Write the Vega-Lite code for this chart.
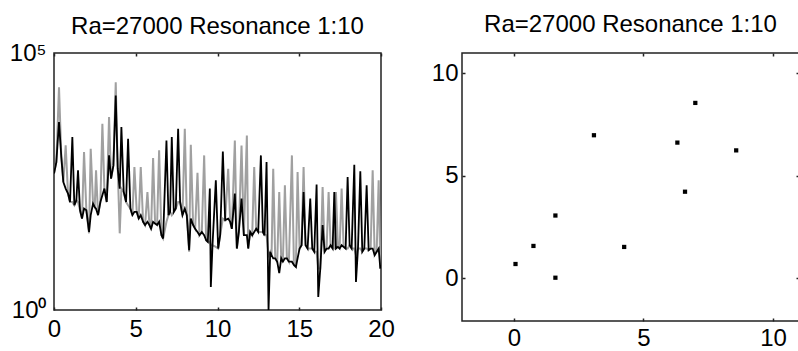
{
  "$schema": "https://vega.github.io/schema/vega-lite/v6.json",
  "padding": {"left": 8, "top": 12, "right": 0, "bottom": 0},
  "bounds": "flush",
  "spacing": 81,
  "background": "white",
  "config": {
    "view": {"stroke": "#222", "strokeWidth": 1.5},
    "font": "Liberation Sans",
    "axis": {"grid": false, "domain": false, "tickColor": "#222", "tickSize": -3, "tickWidth": 1.5, "labelFontSize": 24, "labelColor": "#000", "labelFont": "Liberation Sans", "labelFlush": false},
    "title": {"fontSize": 24, "fontWeight": "normal", "font": "Liberation Sans", "color": "#000", "baseline": "alphabetic", "anchor": "middle", "frame": "group"}
  },
  "datasets": {
    "spec": [
      {"x": 0, "b": 449, "g": 449},
      {"x": 0.143, "b": 755, "g": 755},
      {"x": 0.306, "b": 4519, "g": 21580},
      {"x": 0.449, "b": 944, "g": 944},
      {"x": 0.571, "b": 309, "g": 309},
      {"x": 0.714, "b": 230, "g": 1592},
      {"x": 0.857, "b": 184, "g": 184},
      {"x": 0.98, "b": 126, "g": 126},
      {"x": 1.122, "b": 2312, "g": 126},
      {"x": 1.245, "b": 109, "g": 109},
      {"x": 1.367, "b": 136, "g": 136},
      {"x": 1.469, "b": 521, "g": 126},
      {"x": 1.592, "b": 87, "g": 87},
      {"x": 1.714, "b": 60, "g": 60},
      {"x": 1.837, "b": 94, "g": 1181},
      {"x": 1.98, "b": 87, "g": 87},
      {"x": 2.143, "b": 33, "g": 31},
      {"x": 2.245, "b": 70, "g": 1371},
      {"x": 2.388, "b": 117, "g": 117},
      {"x": 2.49, "b": 101, "g": 101},
      {"x": 2.571, "b": 94, "g": 521},
      {"x": 2.694, "b": 70, "g": 70},
      {"x": 2.837, "b": 126, "g": 126},
      {"x": 2.959, "b": 171, "g": 4188},
      {"x": 3.082, "b": 230, "g": 230},
      {"x": 3.224, "b": 126, "g": 126},
      {"x": 3.367, "b": 1018, "g": 5649},
      {"x": 3.49, "b": 359, "g": 359},
      {"x": 3.633, "b": 651, "g": 651},
      {"x": 3.776, "b": 14860, "g": 26980},
      {"x": 3.898, "b": 561, "g": 561},
      {"x": 4.02, "b": 230, "g": 31},
      {"x": 4.122, "b": 3612, "g": 230},
      {"x": 4.265, "b": 198, "g": 198},
      {"x": 4.408, "b": 126, "g": 126},
      {"x": 4.531, "b": 2143, "g": 109},
      {"x": 4.673, "b": 94, "g": 94},
      {"x": 4.796, "b": 70, "g": 70},
      {"x": 4.918, "b": 81, "g": 604},
      {"x": 5.061, "b": 81, "g": 81},
      {"x": 5.184, "b": 60, "g": 60},
      {"x": 5.306, "b": 70, "g": 604},
      {"x": 5.449, "b": 52, "g": 52},
      {"x": 5.571, "b": 45, "g": 45},
      {"x": 5.714, "b": 52, "g": 198},
      {"x": 5.837, "b": 45, "g": 45},
      {"x": 5.939, "b": 38, "g": 38},
      {"x": 6.061, "b": 52, "g": 904},
      {"x": 6.184, "b": 48, "g": 48},
      {"x": 6.306, "b": 45, "g": 45},
      {"x": 6.429, "b": 52, "g": 1274},
      {"x": 6.571, "b": 28.5, "g": 28.5},
      {"x": 6.673, "b": 24.6, "g": 24.6},
      {"x": 6.878, "b": 1991, "g": 52},
      {"x": 7.0, "b": 70, "g": 70},
      {"x": 7.102, "b": 81, "g": 81},
      {"x": 7.204, "b": 2312, "g": 70},
      {"x": 7.327, "b": 81, "g": 81},
      {"x": 7.449, "b": 94, "g": 94},
      {"x": 7.592, "b": 3350, "g": 126},
      {"x": 7.714, "b": 126, "g": 126},
      {"x": 7.857, "b": 70, "g": 70},
      {"x": 8.0, "b": 94, "g": 3350},
      {"x": 8.122, "b": 70, "g": 70},
      {"x": 8.265, "b": 14.6, "g": 13.6},
      {"x": 8.367, "b": 60, "g": 1641},
      {"x": 8.51, "b": 45, "g": 45},
      {"x": 8.633, "b": 38, "g": 38},
      {"x": 8.776, "b": 33, "g": 469},
      {"x": 8.898, "b": 28.5, "g": 28.5},
      {"x": 9.041, "b": 33, "g": 33},
      {"x": 9.184, "b": 28.5, "g": 1018},
      {"x": 9.306, "b": 22.8, "g": 22.8},
      {"x": 9.408, "b": 21.2, "g": 21.2},
      {"x": 9.531, "b": 230, "g": 21.2},
      {"x": 9.592, "b": 2.8, "g": 18.2},
      {"x": 9.694, "b": 18.2, "g": 18.2},
      {"x": 9.898, "b": 333, "g": 16.9},
      {"x": 10.041, "b": 15.7, "g": 15.7},
      {"x": 10.163, "b": 28.5, "g": 28.5},
      {"x": 10.327, "b": 1217, "g": 60},
      {"x": 10.469, "b": 56, "g": 56},
      {"x": 10.653, "b": 60, "g": 561},
      {"x": 10.776, "b": 52, "g": 52},
      {"x": 10.878, "b": 38, "g": 38},
      {"x": 11.061, "b": 184, "g": 1991},
      {"x": 11.184, "b": 15.7, "g": 15.7},
      {"x": 11.306, "b": 33, "g": 33},
      {"x": 11.469, "b": 147, "g": 1592},
      {"x": 11.612, "b": 28.5, "g": 28.5},
      {"x": 11.796, "b": 28.5, "g": 2489},
      {"x": 11.878, "b": 15.7, "g": 15.7},
      {"x": 12.0, "b": 33, "g": 33},
      {"x": 12.122, "b": 28.5, "g": 28.5},
      {"x": 12.245, "b": 33, "g": 604},
      {"x": 12.367, "b": 38, "g": 38},
      {"x": 12.49, "b": 33, "g": 33},
      {"x": 12.653, "b": 1018, "g": 33},
      {"x": 12.776, "b": 33, "g": 33},
      {"x": 12.878, "b": 28.5, "g": 28.5},
      {"x": 13.0, "b": 755, "g": 28.5},
      {"x": 13.122, "b": 1, "g": 11.7},
      {"x": 13.224, "b": 13.6, "g": 13.6},
      {"x": 13.306, "b": 11.7, "g": 11.7},
      {"x": 13.408, "b": 10.1, "g": 561},
      {"x": 13.531, "b": 10.1, "g": 10.1},
      {"x": 13.653, "b": 8.7, "g": 8.7},
      {"x": 13.776, "b": 5.2, "g": 198},
      {"x": 13.898, "b": 10.1, "g": 10.1},
      {"x": 14.0, "b": 8.7, "g": 8.7},
      {"x": 14.122, "b": 10.1, "g": 267},
      {"x": 14.245, "b": 10.1, "g": 10.1},
      {"x": 14.367, "b": 8.7, "g": 8.7},
      {"x": 14.551, "b": 8.7, "g": 1018},
      {"x": 14.673, "b": 7.5, "g": 7.5},
      {"x": 14.796, "b": 6.9, "g": 6.9},
      {"x": 14.898, "b": 10.1, "g": 483},
      {"x": 15.02, "b": 15.7, "g": 15.7},
      {"x": 15.143, "b": 18.2, "g": 18.2},
      {"x": 15.265, "b": 198, "g": 604},
      {"x": 15.388, "b": 18.2, "g": 18.2},
      {"x": 15.51, "b": 15.7, "g": 15.7},
      {"x": 15.673, "b": 147, "g": 15.7},
      {"x": 15.796, "b": 15.7, "g": 15.7},
      {"x": 15.918, "b": 13.6, "g": 13.6},
      {"x": 16.061, "b": 275, "g": 13.6},
      {"x": 16.163, "b": 1.8, "g": 6.4},
      {"x": 16.286, "b": 6.4, "g": 6.4},
      {"x": 16.429, "b": 45, "g": 247},
      {"x": 16.551, "b": 13.6, "g": 13.6},
      {"x": 16.673, "b": 15.7, "g": 15.7},
      {"x": 16.796, "b": 15.7, "g": 198},
      {"x": 16.918, "b": 18.2, "g": 18.2},
      {"x": 17.041, "b": 15.7, "g": 15.7},
      {"x": 17.143, "b": 198, "g": 15.7},
      {"x": 17.245, "b": 15.7, "g": 198},
      {"x": 17.367, "b": 16.9, "g": 16.9},
      {"x": 17.469, "b": 15.7, "g": 15.7},
      {"x": 17.592, "b": 18.2, "g": 230},
      {"x": 17.714, "b": 16.9, "g": 16.9},
      {"x": 17.837, "b": 15.7, "g": 15.7},
      {"x": 17.959, "b": 387, "g": 15.7},
      {"x": 18.082, "b": 18.2, "g": 18.2},
      {"x": 18.204, "b": 15.7, "g": 15.7},
      {"x": 18.367, "b": 671, "g": 15.7},
      {"x": 18.469, "b": 3.5, "g": 11.7},
      {"x": 18.592, "b": 15.7, "g": 15.7},
      {"x": 18.735, "b": 498, "g": 15.7},
      {"x": 18.857, "b": 13.6, "g": 13.6},
      {"x": 18.98, "b": 15.7, "g": 15.7},
      {"x": 19.122, "b": 267, "g": 15.7},
      {"x": 19.245, "b": 14.6, "g": 14.6},
      {"x": 19.367, "b": 15.7, "g": 15.7},
      {"x": 19.49, "b": 15.7, "g": 521},
      {"x": 19.612, "b": 11.7, "g": 11.7},
      {"x": 19.735, "b": 13.6, "g": 13.6},
      {"x": 19.857, "b": 15.7, "g": 333},
      {"x": 19.959, "b": 6.4, "g": 6.4},
      {"x": 20.0, "b": 7.5, "g": 7.5}
    ],
    "pts": [
      {"x": 0.064, "y": 0.686},
      {"x": 0.756, "y": 1.569},
      {"x": 1.603, "y": 3.056},
      {"x": 1.603, "y": 0.016},
      {"x": 3.09, "y": 6.98},
      {"x": 4.256, "y": 1.52},
      {"x": 6.308, "y": 6.62},
      {"x": 6.603, "y": 4.22},
      {"x": 7.0, "y": 8.56},
      {"x": 8.577, "y": 6.24}
    ]
  },
  "hconcat": [
    {
      "width": 327,
      "height": 257,
      "title": {"text": "Ra=27000 Resonance 1:10", "offset": 2},
      "data": {"name": "spec"},
      "layer": [
        {
          "mark": {"type": "line", "color": "#a0a0a0", "strokeWidth": 2, "clip": true},
          "encoding": {
            "x": {"field": "x", "type": "quantitative", "scale": {"domain": [0, 20], "nice": false, "zero": false},
                  "axis": {"title": null, "values": [0, 5, 10, 15, 20], "labelPadding": 10}},
            "y": {"field": "g", "type": "quantitative", "scale": {"type": "log", "domain": [1, 100000], "nice": false},
                  "axis": {"title": null, "values": [1, 100000], "ticks": false, "labelPadding": 8, "labelExpr": "datum.value == 1 ? '10⁰' : '10⁵'"}}
          }
        },
        {
          "mark": {"type": "line", "color": "#000", "strokeWidth": 1.8, "clip": true},
          "encoding": {
            "x": {"field": "x", "type": "quantitative", "axis": {"title": null, "orient": "top", "labels": false, "labelPadding": 0, "values": [0, 5, 10, 15, 20]}},
            "y": {"field": "b", "type": "quantitative"}
          }
        }
      ],
      "resolve": {"axis": {"x": "independent"}}
    },
    {
      "width": 337,
      "height": 268,
      "title": {"text": "Ra=27000 Resonance 1:10", "offset": 15},
      "data": {"name": "pts"},
      "layer": [
        {
          "mark": {"type": "square", "size": 18, "color": "#000", "opacity": 1},
          "encoding": {
            "x": {"field": "x", "type": "quantitative", "scale": {"domain": [-2, 11], "nice": false, "zero": false},
                  "axis": {"title": null, "values": [0, 5, 10], "labelPadding": 8}},
            "y": {"field": "y", "type": "quantitative", "scale": {"domain": [-2.1, 11], "nice": false, "zero": false},
                  "axis": {"title": null, "values": [0, 5, 10], "labelPadding": 7}}
          }
        },
        {
          "mark": {"type": "square", "size": 18, "color": "#000", "opacity": 0},
          "encoding": {
            "x": {"field": "x", "type": "quantitative", "axis": {"title": null, "orient": "top", "labels": false, "labelPadding": 0, "values": [0, 5, 10]}},
            "y": {"field": "y", "type": "quantitative", "axis": {"title": null, "orient": "right", "labels": false, "labelPadding": 0, "values": [0, 5, 10]}}
          }
        }
      ],
      "resolve": {"axis": {"x": "independent", "y": "independent"}}
    }
  ]
}
